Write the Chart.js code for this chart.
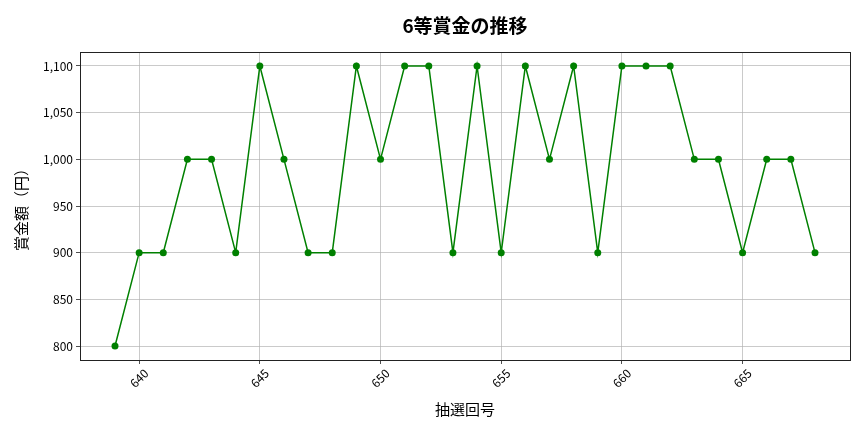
<!DOCTYPE html>
<html>
<head>
<meta charset="utf-8">
<script src="https://cdn.jsdelivr.net/npm/chart.js@4/dist/chart.umd.min.js"></script>
<style>
html,body{margin:0;padding:0;background:#fff;}
#wrap{width:864px;height:432px;}
</style>
</head>
<body>
<div id="wrap"><canvas id="c" width="864" height="432"></canvas></div>
<script>
const draws = [639,640,641,642,643,644,645,646,647,648,649,650,651,652,653,654,655,656,657,658,659,660,661,662,663,664,665,666,667,668];
const prizes = [800,900,900,1000,1000,900,1100,1000,900,900,1100,1000,1100,1100,900,1100,900,1100,1000,1100,900,1100,1100,1100,1000,1000,900,1000,1000,900];
const xTicks = [640,645,650,655,660,665];
const yTicks = [800,850,900,950,1000,1050,1100];
const titleText = '6等賞金の推移';
const xTitle = '抽選回号';
const yTitle = '賞金額（円）';

const FONT = "'Noto Sans CJK JP', 'DejaVu Sans', sans-serif";

const frame = {
  id: 'frame',
  afterDraw(chart) {
    const a = chart.chartArea, ctx = chart.ctx;
    ctx.save();
    ctx.strokeStyle = '#222';
    ctx.lineWidth = 1;
    ctx.strokeRect(Math.round(a.left)+0.5, Math.round(a.top)+0.5, Math.round(a.right-a.left), Math.round(a.bottom-a.top));
    ctx.fillStyle = '#000';
    ctx.font = "bold 19px " + FONT;
    ctx.textAlign = 'center';
    ctx.textBaseline = 'middle';
    ctx.fillText(titleText, (a.left + a.right) / 2, 26);
    ctx.restore();
  }
};

new Chart(document.getElementById('c'), {
  type: 'line',
  data: {
    datasets: [{
      data: draws.map((d,i)=>({x:d, y:prizes[i]})),
      borderColor: '#008000',
      backgroundColor: '#008000',
      borderWidth: 1.5,
      pointRadius: 3.5,
      pointHoverRadius: 3.5,
      pointBorderWidth: 0,
      tension: 0,
      fill: false
    }]
  },
  options: {
    responsive: false,
    animation: false,
    devicePixelRatio: 1,
    layout: { padding: { left: 0, right: 14, top: 52, bottom: 0 } },
    plugins: {
      legend: { display: false },
      tooltip: { enabled: false },
      title: { display: false }
    },
    scales: {
      x: {
        type: 'linear',
        min: 637.55,
        max: 669.45,
        afterFit(s) { s.height = 72; },
        afterBuildTicks(s) { s.ticks = xTicks.map(v=>({value:v})); },
        grid: { color: 'rgba(176,176,176,0.85)', lineWidth: 0.8, drawTicks: true, tickLength: 4, tickColor: '#222' },
        border: { display: false },
        ticks: {
          color: '#000',
          font: { family: FONT, size: 12 },
          maxRotation: 45, minRotation: 45,
          labelOffset: 7,
          padding: 2,
          callback: v => String(v)
        },
        title: {
          display: true, text: xTitle, color: '#000',
          font: { family: FONT, size: 15 },
          padding: { top: 4, bottom: 14 }
        }
      },
      y: {
        type: 'linear',
        min: 785,
        max: 1115,
        afterFit(s) { s.width = 80; },
        afterBuildTicks(s) { s.ticks = yTicks.map(v=>({value:v})); },
        grid: { color: 'rgba(176,176,176,0.85)', lineWidth: 0.8, drawTicks: true, tickLength: 4, tickColor: '#222' },
        border: { display: false },
        ticks: {
          color: '#000',
          font: { family: FONT, size: 12 },
          padding: 3,
          callback: v => v.toLocaleString('en-US')
        },
        title: {
          display: true, text: yTitle, color: '#000',
          font: { family: FONT, size: 15 },
          padding: { top: 12, bottom: 4 }
        }
      }
    }
  },
  plugins: [frame]
});
</script>
</body>
</html>
